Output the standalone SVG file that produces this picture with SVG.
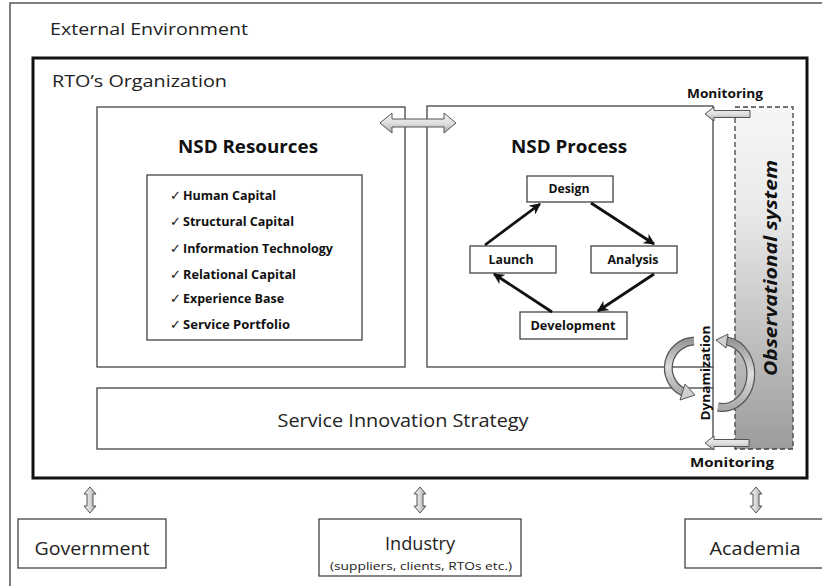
<svg xmlns="http://www.w3.org/2000/svg" width="822" height="586" viewBox="0 0 822 586">
<defs>
<style>
.frame{fill:none;stroke:#555;stroke-width:1.5}
.box{fill:#fff;stroke:#444;stroke-width:1.3}
.rto{fill:none;stroke:#111;stroke-width:3}
.lbl{font-family:"Open Sans","DejaVu Sans",sans-serif;fill:#222}
.bold{font-family:"Open Sans","DejaVu Sans",sans-serif;font-weight:bold;fill:#111}
.chk{font-family:"DejaVu Sans",sans-serif;font-weight:bold;font-size:13px;fill:#111}
.cyc{stroke:#111;stroke-width:2.8;fill:none;marker-end:url(#ah)}
.blk{fill:url(#blkg);stroke:#555;stroke-width:1}
.rib{fill:none;stroke:#555;stroke-width:9}
.ribin{fill:none;stroke:url(#ribg);stroke-width:6.5}
.rhead{fill:#d0d0d0;stroke:#555;stroke-width:1}
</style>
<marker id="ah" viewBox="0 0 10 10" refX="9" refY="5" markerWidth="4" markerHeight="4" orient="auto" markerUnits="strokeWidth">
<path d="M0,0 L10,5 L0,10 L3,5 Z" fill="#111"/>
</marker>
<linearGradient id="blkg" x1="0" y1="0" x2="0" y2="1">
<stop offset="0" stop-color="#f2f2f2"/><stop offset="0.5" stop-color="#e0e0e0"/><stop offset="1" stop-color="#a8a8a8"/>
</linearGradient>
<linearGradient id="vblkg" x1="0" y1="0" x2="1" y2="0">
<stop offset="0" stop-color="#f2f2f2"/><stop offset="0.5" stop-color="#d8d8d8"/><stop offset="1" stop-color="#999"/>
</linearGradient>
<linearGradient id="ribg" x1="0" y1="0" x2="0" y2="1">
<stop offset="0" stop-color="#999"/><stop offset="0.5" stop-color="#ddd"/><stop offset="1" stop-color="#aaa"/>
</linearGradient>
<linearGradient id="obsg" x1="0" y1="0" x2="0" y2="1">
<stop offset="0" stop-color="#f6f6f6"/><stop offset="0.3" stop-color="#eaeaea"/><stop offset="1" stop-color="#9c9c9c"/>
</linearGradient>
<path id="vda" d="M0,0 L6,7 L3,7 L3,19 L6,19 L0,26 L-6,19 L-3,19 L-3,7 L-6,7 Z" fill="url(#vblkg)" stroke="#555" stroke-width="1"/>
</defs>

<rect width="822" height="586" fill="#fff"/>

<g id="external-environment">
<rect class="frame" x="10" y="3" width="830" height="600"/>
<text class="lbl" x="50" y="35" font-size="17" textLength="198" lengthAdjust="spacingAndGlyphs">External Environment</text>
</g>

<g id="rto-organization">
<rect class="rto" x="33" y="58" width="774" height="420"/>
<text class="lbl" x="52" y="87" font-size="17" textLength="175" lengthAdjust="spacingAndGlyphs">RTO’s Organization</text>
</g>

<g id="observational-system">
<rect x="735" y="107" width="58" height="342" fill="url(#obsg)" stroke="#444" stroke-width="1.3" stroke-dasharray="5,3"/>
<text class="bold" transform="translate(777,268) rotate(-90)" text-anchor="middle" font-size="18" font-style="italic" textLength="216" lengthAdjust="spacingAndGlyphs">Observational system</text>
</g>

<g id="nsd-resources">
<rect class="box" x="97" y="107" width="308" height="260"/>
<text class="bold" x="248" y="153" text-anchor="middle" font-size="18" textLength="140" lengthAdjust="spacingAndGlyphs">NSD Resources</text>
</g>

<g id="resource-list">
<rect class="box" x="147" y="175" width="215" height="165"/>
<text class="chk" x="170" y="200">✓</text><text class="chk" x="170" y="226">✓</text><text class="chk" x="170" y="253">✓</text>
<text class="chk" x="170" y="279">✓</text><text class="chk" x="170" y="303">✓</text><text class="chk" x="170" y="329">✓</text>
<text class="bold" x="183" y="200" font-size="12" textLength="93" lengthAdjust="spacingAndGlyphs">Human Capital</text>
<text class="bold" x="183" y="226" font-size="12" textLength="111" lengthAdjust="spacingAndGlyphs">Structural Capital</text>
<text class="bold" x="183" y="253" font-size="12" textLength="150" lengthAdjust="spacingAndGlyphs">Information Technology</text>
<text class="bold" x="183" y="279" font-size="12" textLength="113" lengthAdjust="spacingAndGlyphs">Relational Capital</text>
<text class="bold" x="183" y="303" font-size="12" textLength="101" lengthAdjust="spacingAndGlyphs">Experience Base</text>
<text class="bold" x="183" y="329" font-size="12" textLength="107" lengthAdjust="spacingAndGlyphs">Service Portfolio</text>
</g>

<g id="nsd-process">
<rect class="box" x="427" y="106" width="286" height="261"/>
<text class="bold" x="569" y="153" text-anchor="middle" font-size="18" textLength="116" lengthAdjust="spacingAndGlyphs">NSD Process</text>
</g>

<g id="design">
<rect class="box" x="527" y="176" width="86" height="26"/>
<text class="bold" x="569" y="193" text-anchor="middle" font-size="12" textLength="41" lengthAdjust="spacingAndGlyphs">Design</text>
</g>
<g id="launch">
<rect class="box" x="470" y="246" width="86" height="27"/>
<text class="bold" x="511" y="264" text-anchor="middle" font-size="12" textLength="45" lengthAdjust="spacingAndGlyphs">Launch</text>
</g>
<g id="analysis">
<rect class="box" x="591" y="246" width="86" height="27"/>
<text class="bold" x="633" y="264" text-anchor="middle" font-size="12" textLength="51" lengthAdjust="spacingAndGlyphs">Analysis</text>
</g>
<g id="development">
<rect class="box" x="520" y="312" width="107" height="27"/>
<text class="bold" x="573" y="330" text-anchor="middle" font-size="12" textLength="85" lengthAdjust="spacingAndGlyphs">Development</text>
</g>

<g id="service-innovation-strategy">
<rect class="box" x="97" y="388" width="616" height="61"/>
<text class="lbl" x="403" y="427" text-anchor="middle" font-size="19" textLength="251" lengthAdjust="spacingAndGlyphs">Service Innovation Strategy</text>
</g>

<g id="dynamization">
<line x1="713" y1="367" x2="713" y2="388" stroke="#444" stroke-width="1.3"/>
<text class="bold" transform="translate(710,373) rotate(-90)" text-anchor="middle" font-size="13" textLength="95" lengthAdjust="spacingAndGlyphs">Dynamization</text>
</g>

<g id="monitoring-labels">
<text class="bold" x="725" y="98" text-anchor="middle" font-size="13" textLength="76" lengthAdjust="spacingAndGlyphs">Monitoring</text>
<text class="bold" x="732" y="467" text-anchor="middle" font-size="13" textLength="84" lengthAdjust="spacingAndGlyphs">Monitoring</text>
</g>

<g id="government">
<rect class="box" x="18" y="519" width="148" height="49"/>
<text class="lbl" x="92" y="555" text-anchor="middle" font-size="19" textLength="115" lengthAdjust="spacingAndGlyphs">Government</text>
</g>
<g id="industry">
<rect class="box" x="319" y="519" width="202" height="57"/>
<text class="lbl" x="420" y="550" text-anchor="middle" font-size="19" textLength="70" lengthAdjust="spacingAndGlyphs">Industry</text>
<text class="lbl" x="421" y="570" text-anchor="middle" font-size="10.5" textLength="182" lengthAdjust="spacingAndGlyphs">(suppliers, clients,  RTOs etc.)</text>
</g>
<g id="academia">
<rect class="box" x="685" y="519" width="150" height="49"/>
<text class="lbl" x="755" y="555" text-anchor="middle" font-size="19" textLength="91" lengthAdjust="spacingAndGlyphs">Academia</text>
</g>

<g id="connectors">
<line class="cyc" x1="485" y1="245" x2="540" y2="204"/>
<line class="cyc" x1="591" y1="203" x2="654" y2="244"/>
<line class="cyc" x1="654" y1="274" x2="598" y2="311"/>
<line class="cyc" x1="552" y1="312" x2="494" y2="274"/>
<path class="blk" d="M380,123 L392,113 L392,119 L444,119 L444,113 L456,123 L444,133 L444,127 L392,127 L392,133 Z"/>
<path class="blk" d="M705,114 L714,107 L714,110.5 L750,110.5 L750,117.5 L714,117.5 L714,121 Z"/>
<path class="blk" d="M705,443 L714,436 L714,439.5 L749,439.5 L749,446.5 L714,446.5 L714,450 Z"/>
<path class="rib" d="M694,341 A27 27 0 0 0 683,392"/>
<path class="ribin" d="M694,341 A27 27 0 0 0 683,392"/>
<path class="rhead" d="M685,384 L695,395 L680,400 Z"/>
<path class="rib" d="M718,407 A28 33 0 0 0 727,341"/>
<path class="ribin" d="M718,407 A28 33 0 0 0 727,341"/>
<path class="rhead" d="M728,334 L716,340 L726,348 Z"/>
<use href="#vda" x="90" y="487"/>
<use href="#vda" x="420" y="487"/>
<use href="#vda" x="756" y="487"/>
</g>
</svg>
